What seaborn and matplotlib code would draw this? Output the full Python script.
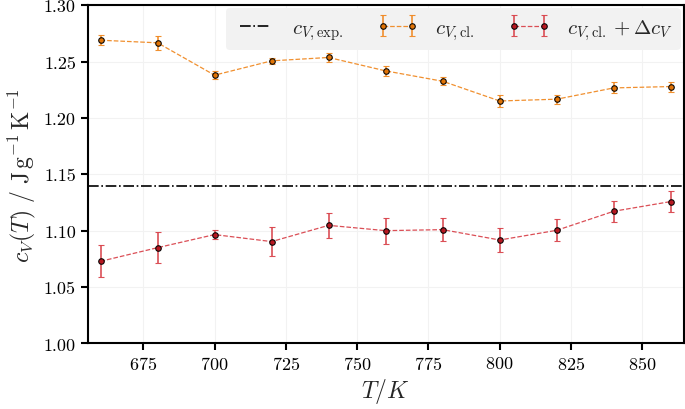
import numpy as np
import matplotlib
matplotlib.use("Agg")
import matplotlib.pyplot as plt
import seaborn as sns

# ------------------------------------------------------------
# data
# ------------------------------------------------------------
temps = [660, 680, 700, 720, 740, 760, 780, 800, 820, 840, 860]

cv_cl = [1.2689, 1.2666, 1.2379, 1.2506, 1.2536, 1.2417, 1.2325, 1.2150, 1.2166, 1.2266, 1.2278]
cv_cl_err = [0.0043, 0.0062, 0.0034, 0.0025, 0.0036, 0.0047, 0.0037, 0.0050, 0.0041, 0.0049, 0.0044]

cv_corr = [1.0728, 1.0849, 1.0965, 1.0903, 1.1047, 1.1000, 1.1009, 1.0917, 1.1003, 1.1172, 1.1258]
cv_corr_err = [0.0142, 0.0135, 0.0038, 0.0127, 0.0110, 0.0114, 0.0105, 0.0105, 0.0099, 0.0095, 0.0090]

cv_exp = 1.14

# ------------------------------------------------------------
# style
# ------------------------------------------------------------
sns.set_theme(style="whitegrid")
plt.rcParams.update({
    "font.family": "serif",
    "font.serif": ["cmr10", "DejaVu Serif"],
    "mathtext.fontset": "cm",
    "axes.formatter.use_mathtext": True,
    "axes.edgecolor": "black",
    "axes.linewidth": 1.5,
    "grid.color": "#f2f2f2",
    "grid.linewidth": 0.8,
    "xtick.bottom": True,
    "ytick.left": True,
    "xtick.major.size": 5,
    "ytick.major.size": 5,
    "xtick.major.width": 1.5,
    "ytick.major.width": 1.5,
    "xtick.color": "black",
    "ytick.color": "black",
})

fig, ax = plt.subplots(figsize=(6.85, 4.10), dpi=100)

ax.axhline(cv_exp, color="black", linestyle="-.", linewidth=1.2,
           label=r"$c_{V,\mathrm{exp.}}$")

ax.errorbar(temps, cv_cl, yerr=cv_cl_err, fmt="o", linestyle="--",
            color="#f08a24", ecolor="#f08a24", elinewidth=1.2, capsize=2.5,
            markersize=4, markerfacecolor="#e07000", markeredgecolor="black",
            markeredgewidth=0.8, linewidth=0.9, alpha=0.95,
            label=r"$c_{V,\mathrm{cl.}}$")

ax.errorbar(temps, cv_corr, yerr=cv_corr_err, fmt="o", linestyle="--",
            color="#d9454d", ecolor="#d9454d", elinewidth=1.2, capsize=2.5,
            markersize=4, markerfacecolor="#b5121b", markeredgecolor="black",
            markeredgewidth=0.8, linewidth=0.9, alpha=0.95,
            label=r"$c_{V,\mathrm{cl.}} + \Delta c_V$")

ax.set_xlim(655.5, 864.5)
ax.set_ylim(1.00, 1.30)
ax.set_xticks([675, 700, 725, 750, 775, 800, 825, 850])
ax.set_yticks([1.00, 1.05, 1.10, 1.15, 1.20, 1.25, 1.30])
ax.set_yticklabels(["1.00", "1.05", "1.10", "1.15", "1.20", "1.25", "1.30"])
ax.tick_params(axis="both", labelsize=13)

ax.set_xlabel(r"$T/K$", fontsize=17, labelpad=3)
ax.set_ylabel(r"$c_V(T)\ /\ \mathrm{J\,g^{-1}\,K^{-1}}$", fontsize=17)

leg = ax.legend(loc="upper right", ncol=3, fontsize=15, frameon=True,
                facecolor="#f2f2f2", edgecolor="none", framealpha=1.0,
                borderaxespad=0.15, columnspacing=1.6, handlelength=2.0,
                numpoints=2)

plt.subplots_adjust(left=0.128, right=0.998, top=0.985, bottom=0.16)
plt.savefig("out.png", dpi=100)
